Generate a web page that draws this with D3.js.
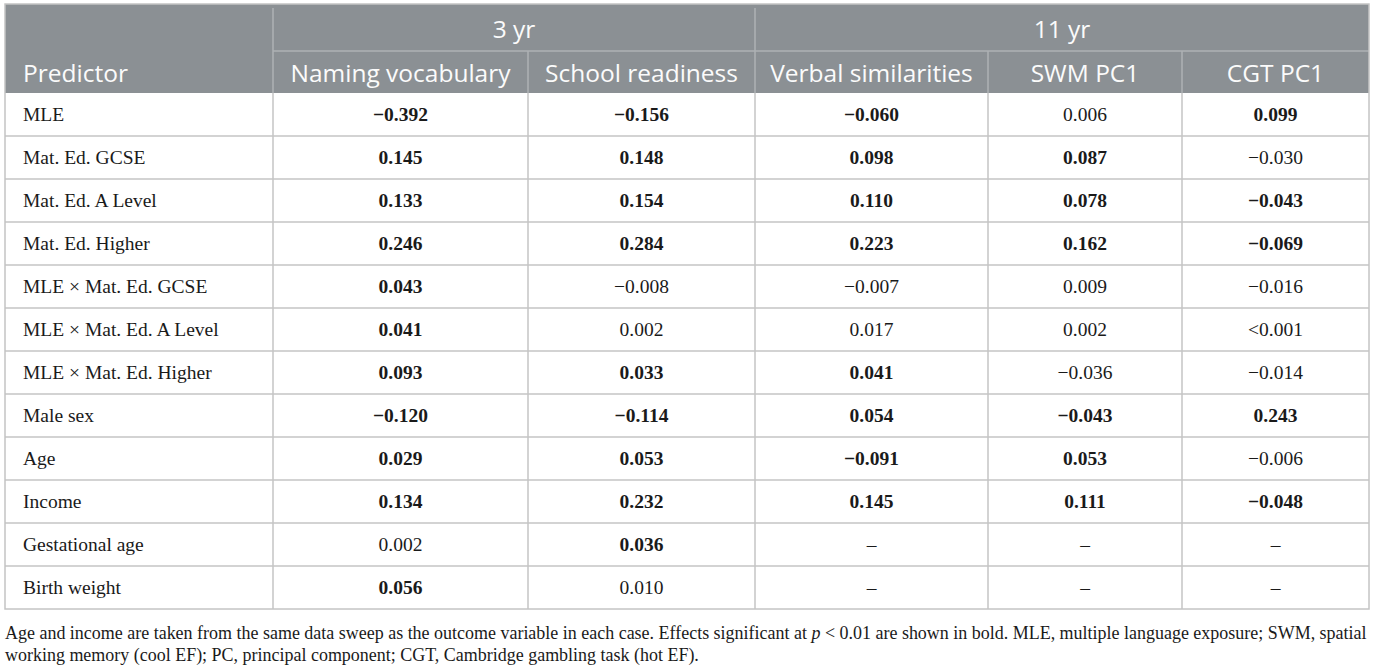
<!DOCTYPE html>
<html>
<head>
<meta charset="utf-8">
<script src="https://cdn.jsdelivr.net/npm/d3@7/dist/d3.min.js"></script>
<style>
  body { margin: 0; background: #fff; }
  .hdr { font-family: "Open Sans", sans-serif; fill: #fbfbfb; font-size: 24.5px; }
  .cell { font-family: "Liberation Serif", serif; fill: #1a1a1a; font-size: 19.5px; }
  .note { font-family: "Liberation Serif", serif; fill: #1a1a1a; }
</style>
</head>
<body>
<div id="chart"></div>
<script>
// ---- data ----
const predictors = [
  "MLE", "Mat. Ed. GCSE", "Mat. Ed. A Level", "Mat. Ed. Higher",
  "MLE × Mat. Ed. GCSE", "MLE × Mat. Ed. A Level", "MLE × Mat. Ed. Higher",
  "Male sex", "Age", "Income", "Gestational age", "Birth weight"
];
const groups = ["3 yr", "11 yr"];
const outcomes = ["Naming vocabulary", "School readiness", "Verbal similarities", "SWM PC1", "CGT PC1"];
const outcomeGroup = ["3 yr", "3 yr", "11 yr", "11 yr", "11 yr"];

const namingVocab = ["−0.392", "0.145", "0.133", "0.246", "0.043", "0.041", "0.093", "−0.120", "0.029", "0.134", "0.002", "0.056"];
const namingBold  = [1, 1, 1, 1, 1, 1, 1, 1, 1, 1, 0, 1];
const schoolReady = ["−0.156", "0.148", "0.154", "0.284", "−0.008", "0.002", "0.033", "−0.114", "0.053", "0.232", "0.036", "0.010"];
const schoolBold  = [1, 1, 1, 1, 0, 0, 1, 1, 1, 1, 1, 0];
const verbalSim   = ["−0.060", "0.098", "0.110", "0.223", "−0.007", "0.017", "0.041", "0.054", "−0.091", "0.145", "–", "–"];
const verbalBold  = [1, 1, 1, 1, 0, 0, 1, 1, 1, 1, 0, 0];
const swmPC1      = ["0.006", "0.087", "0.078", "0.162", "0.009", "0.002", "−0.036", "−0.043", "0.053", "0.111", "–", "–"];
const swmBold     = [0, 1, 1, 1, 0, 0, 0, 1, 1, 1, 0, 0];
const cgtPC1      = ["0.099", "−0.030", "−0.043", "−0.069", "−0.016", "<0.001", "−0.014", "0.243", "−0.006", "−0.048", "–", "–"];
const cgtBold     = [1, 0, 1, 1, 0, 0, 0, 1, 0, 1, 0, 0];

const columnValues = [namingVocab, schoolReady, verbalSim, swmPC1, cgtPC1];
const columnBold = [namingBold, schoolBold, verbalBold, swmBold, cgtBold];

const noteLine1 = ["Age and income are taken from the same data sweep as the outcome variable in each case. Effects significant at ", "p", " < 0.01 are shown in bold. MLE, multiple language exposure; SWM, spatial"];
const noteLine2 = ["working memory (cool EF); PC, principal component; CGT, Cambridge gambling task (hot EF)."];

// ---- layout ----
const W = 1376, H = 666;
const tLeft = 5, tRight = 1369, tTop = 4;
const subTop = 51, headBottom = 93, tableBottom = 609;
const firstColRight = 273;
const colEdges = [273, 528, 755, 988, 1182, 1369];
const headFill = "#8b9094";
const headLine = "#aeb2b5";
const gridLine = "#c4c4c4";

const svg = d3.select("#chart").append("svg")
  .attr("width", W).attr("height", H);

const yScale = d3.scaleBand().domain(predictors).range([headBottom, tableBottom]);
const colX = d3.scaleOrdinal().domain(outcomes).range(colEdges.slice(0, 5));
const colW = d3.scaleOrdinal().domain(outcomes).range(d3.pairs(colEdges).map(p => p[1] - p[0]));

// header background
svg.append("rect")
  .attr("x", tLeft).attr("y", tTop)
  .attr("width", tRight - tLeft).attr("height", headBottom - tTop)
  .attr("fill", headFill);

// header lines
svg.append("line")
  .attr("x1", firstColRight).attr("x2", tRight)
  .attr("y1", subTop).attr("y2", subTop)
  .attr("stroke", headLine).attr("stroke-width", 1.5);

const groupSpans = groups.map(g => {
  const idx = outcomes.map((o, i) => i).filter(i => outcomeGroup[i] === g);
  return { g, x0: colEdges[idx[0]], x1: colEdges[idx[idx.length - 1] + 1] };
});

svg.selectAll("line.vfull")
  .data([firstColRight, groupSpans[1].x0])
  .join("line")
  .attr("class", "vfull")
  .attr("x1", d => d).attr("x2", d => d)
  .attr("y1", tTop + 4).attr("y2", headBottom)
  .attr("stroke", headLine).attr("stroke-width", 1.5);

svg.selectAll("line.vsub")
  .data([colEdges[1], colEdges[3], colEdges[4]])
  .join("line")
  .attr("class", "vsub")
  .attr("x1", d => d).attr("x2", d => d)
  .attr("y1", subTop).attr("y2", headBottom)
  .attr("stroke", headLine).attr("stroke-width", 1.5);

// header text
svg.selectAll("text.grp")
  .data(groupSpans)
  .join("text")
  .attr("class", "hdr grp")
  .attr("x", d => (d.x0 + d.x1) / 2)
  .attr("y", (tTop + subTop) / 2 + 1)
  .attr("text-anchor", "middle")
  .attr("dominant-baseline", "central")
  .text(d => d.g);

svg.selectAll("text.outc")
  .data(outcomes)
  .join("text")
  .attr("class", "hdr outc")
  .attr("x", d => colX(d) + colW(d) / 2)
  .attr("y", (subTop + headBottom) / 2)
  .attr("text-anchor", "middle")
  .attr("dominant-baseline", "central")
  .text(d => d);

svg.append("text")
  .attr("class", "hdr")
  .attr("x", 23)
  .attr("y", (subTop + headBottom) / 2)
  .attr("dominant-baseline", "central")
  .text("Predictor");

// body grid
svg.selectAll("line.hrow")
  .data(predictors.slice(1))
  .join("line")
  .attr("class", "hrow")
  .attr("x1", tLeft).attr("x2", tRight)
  .attr("y1", d => yScale(d)).attr("y2", d => yScale(d))
  .attr("stroke", gridLine).attr("stroke-width", 1.5);

svg.selectAll("line.vcol")
  .data(colEdges.slice(0, 5))
  .join("line")
  .attr("class", "vcol")
  .attr("x1", d => d).attr("x2", d => d)
  .attr("y1", headBottom).attr("y2", tableBottom)
  .attr("stroke", gridLine).attr("stroke-width", 1.5);

// outer border
svg.append("rect")
  .attr("x", tLeft).attr("y", tTop)
  .attr("width", tRight - tLeft).attr("height", tableBottom - tTop)
  .attr("fill", "none")
  .attr("stroke", gridLine).attr("stroke-width", 1.5);

// row labels
svg.selectAll("text.pred")
  .data(predictors)
  .join("text")
  .attr("class", "cell pred")
  .attr("x", 23)
  .attr("y", d => yScale(d) + yScale.bandwidth() / 2)
  .attr("dominant-baseline", "central")
  .text(d => d);

// values
const cells = [];
outcomes.forEach((o, ci) => {
  predictors.forEach((p, ri) => {
    cells.push({ o, p, v: columnValues[ci][ri], b: columnBold[ci][ri] });
  });
});

svg.selectAll("text.val")
  .data(cells)
  .join("text")
  .attr("class", "cell val")
  .attr("x", d => colX(d.o) + colW(d.o) / 2)
  .attr("y", d => yScale(d.p) + yScale.bandwidth() / 2)
  .attr("text-anchor", "middle")
  .attr("dominant-baseline", "central")
  .attr("font-weight", d => d.b ? "bold" : "normal")
  .text(d => d.v);

// footnote
const note = svg.append("g").attr("class", "note");
const l1 = note.append("text").attr("x", tLeft).attr("y", 639).attr("font-size", 17);
l1.selectAll("tspan").data(noteLine1).join("tspan")
  .attr("font-style", (d, i) => i === 1 ? "italic" : "normal")
  .text(d => d);
const w1 = l1.node().getComputedTextLength();
const fs = 17 * (tRight - tLeft - 2) / w1;
l1.attr("font-size", fs);
note.append("text").attr("x", tLeft).attr("y", 661).attr("font-size", fs)
  .text(noteLine2[0]);
</script>
</body>
</html>
